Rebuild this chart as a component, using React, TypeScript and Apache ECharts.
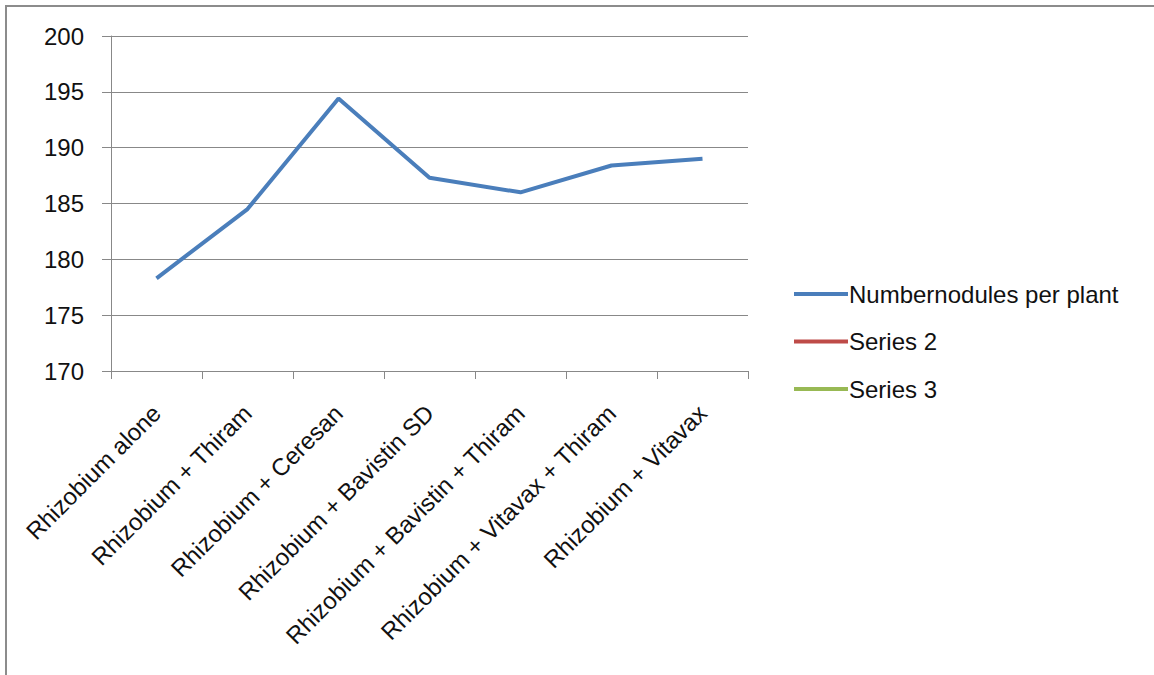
import React, { useEffect, useRef } from "react";
import * as echarts from "echarts";

const categories = [
  "Rhizobium alone",
  "Rhizobium + Thiram",
  "Rhizobium + Ceresan",
  "Rhizobium + Bavistin SD",
  "Rhizobium + Bavistin + Thiram",
  "Rhizobium + Vitavax + Thiram",
  "Rhizobium + Vitavax",
];
const nodules = [178.3, 184.5, 194.4, 187.3, 186.0, 188.4, 189.0];
const series2: number[] = [];
const series3: number[] = [];
const seriesNames = ["Numbernodules per plant", "Series 2", "Series 3"];
const colors = ["#4A7EBB", "#BE4B48", "#98B954"];

const FONT = "Liberation Sans";

export default function App() {
  const ref = useRef<HTMLDivElement>(null);
  useEffect(() => {
    if (!ref.current) return;
    const chart = echarts.init(ref.current, undefined, { renderer: "svg" });
    chart.setOption({
      animation: false,
      backgroundColor: "#ffffff",
      color: colors,
      graphic: [
        {
          type: "rect",
          shape: { x: 6, y: 6, width: 1200, height: 720 },
          style: { fill: "none", stroke: "#8c8c8c", lineWidth: 2 },
          silent: true,
        },
      ],
      grid: { left: 111, right: 406, top: 36, bottom: 304, containLabel: false },
      legend: {
        orient: "vertical",
        left: 789,
        top: 277,
        itemWidth: 54,
        itemHeight: 4,
        itemGap: 23.5,
        icon: "rect",
        textStyle: { fontFamily: FONT, fontSize: 24, color: "#111", lineHeight: 22, padding: [0, 0, 0, -4] },
        data: seriesNames,
      },
      xAxis: {
        type: "category",
        data: categories,
        boundaryGap: true,
        axisLine: { lineStyle: { color: "#888", width: 1 } },
        axisTick: { show: true, length: 8, lineStyle: { color: "#888" }, alignWithLabel: false },
        axisLabel: {
          rotate: 45,
          margin: 38,
          interval: 0,
          fontFamily: FONT,
          fontSize: 24,
          color: "#111",
        },
      },
      yAxis: {
        type: "value",
        min: 170,
        max: 200,
        interval: 5,
        axisLine: { show: true, lineStyle: { color: "#888", width: 1 } },
        axisTick: { show: true, length: 9, inside: false, lineStyle: { color: "#888" } },
        splitLine: { show: true, lineStyle: { color: "#888", width: 1 } },
        axisLabel: { margin: 27, fontFamily: FONT, fontSize: 24, color: "#111" },
      },
      series: [
        {
          name: seriesNames[0],
          type: "line",
          data: nodules,
          symbol: "none",
          lineStyle: { width: 4, color: colors[0] },
          itemStyle: { color: colors[0] },
        },
        {
          name: seriesNames[1],
          type: "line",
          data: series2,
          symbol: "none",
          lineStyle: { width: 4, color: colors[1] },
          itemStyle: { color: colors[1] },
        },
        {
          name: seriesNames[2],
          type: "line",
          data: series3,
          symbol: "none",
          lineStyle: { width: 4, color: colors[2] },
          itemStyle: { color: colors[2] },
        },
      ],
    });
    return () => chart.dispose();
  }, []);
  return (
    <div
      ref={ref}
      style={{ position: "fixed", left: 0, top: 0, width: 1154, height: 675, background: "#fff" }}
    />
  );
}
